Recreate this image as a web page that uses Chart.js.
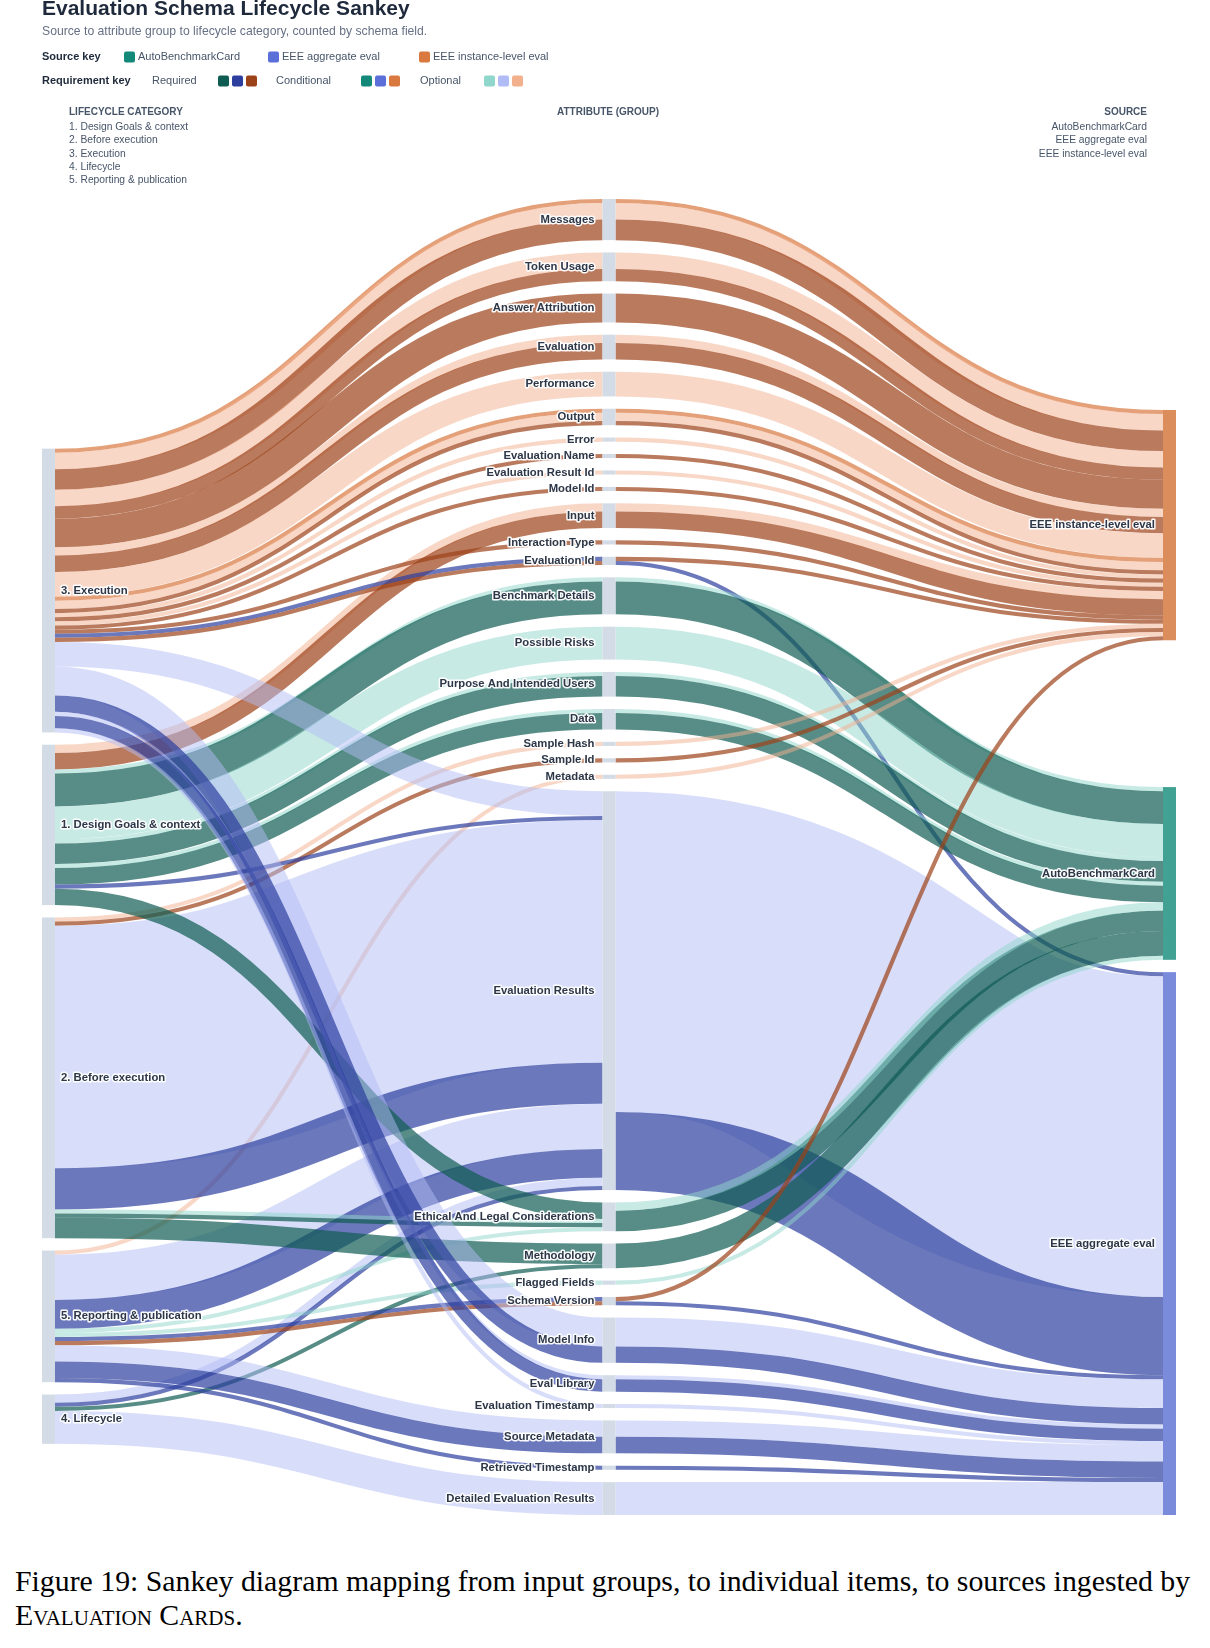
<!DOCTYPE html>
<html>
<head>
<meta charset="utf-8">
<title>Evaluation Schema Lifecycle Sankey</title>
<script src="https://cdn.jsdelivr.net/npm/chart.js@4.4.1/dist/chart.umd.min.js"></script>
<style>
  html, body { margin: 0; padding: 0; background: #fff; }
  body { width: 1210px; height: 1648px; position: relative; overflow: hidden; }
  #sankey { position: absolute; left: 0; top: 0; }
  .caption {
    position: absolute; left: 15px; top: 1564px; white-space: nowrap;
    font-family: "Liberation Serif", "Times New Roman", serif;
    font-size: 29.8px; line-height: 34px; color: #000;
  }
  .sc { font-variant: small-caps; }
</style>
</head>
<body>
<canvas id="sankey" width="1210" height="1540"></canvas>
<div class="caption">Figure 19: Sankey diagram mapping from input groups, to individual items, to sources ingested by<br><span class="sc">Evaluation Cards</span>.</div>

<script>
// Columns of the sankey, top to bottom
const categories = ["3. Execution", "1. Design Goals & context", "2. Before execution",
  "5. Reporting & publication", "4. Lifecycle"];
const attributes = ["Messages", "Token Usage", "Answer Attribution", "Evaluation", "Performance",
  "Output", "Error", "Evaluation Name", "Evaluation Result Id", "Model Id", "Input",
  "Interaction Type", "Evaluation Id", "Benchmark Details", "Possible Risks",
  "Purpose And Intended Users", "Data", "Sample Hash", "Sample Id", "Metadata",
  "Evaluation Results", "Ethical And Legal Considerations", "Methodology", "Flagged Fields",
  "Schema Version", "Model Info", "Eval Library", "Evaluation Timestamp", "Source Metadata",
  "Retrieved Timestamp", "Detailed Evaluation Results"];
const sources = ["EEE instance-level eval", "AutoBenchmarkCard", "EEE aggregate eval"];
const requirementLevels = ["conditional", "optional", "required"];

const INS = "EEE instance-level eval", ABC = "AutoBenchmarkCard", AGG = "EEE aggregate eval";
const EXE = "3. Execution", DES = "1. Design Goals & context", BEF = "2. Before execution",
  REP = "5. Reporting & publication", LIF = "4. Lifecycle";

// lifecycle category, attribute group, source, requirement, number of schema fields
const flows = [
  [EXE, "Messages", INS, "conditional", 1],
  [EXE, "Messages", INS, "optional", 4],
  [EXE, "Messages", INS, "required", 5],
  [EXE, "Token Usage", INS, "optional", 4],
  [EXE, "Token Usage", INS, "required", 3],
  [EXE, "Answer Attribution", INS, "required", 7],
  [EXE, "Evaluation", INS, "optional", 2],
  [EXE, "Evaluation", INS, "required", 4],
  [EXE, "Performance", INS, "optional", 6],
  [EXE, "Output", INS, "conditional", 1],
  [EXE, "Output", INS, "optional", 2],
  [EXE, "Output", INS, "required", 1],
  [EXE, "Error", INS, "optional", 1],
  [EXE, "Evaluation Name", INS, "required", 1],
  [EXE, "Evaluation Result Id", INS, "optional", 1],
  [EXE, "Model Id", INS, "required", 1],
  [DES, "Input", INS, "optional", 2],
  [DES, "Input", INS, "required", 4],
  [EXE, "Interaction Type", INS, "required", 1],
  [EXE, "Evaluation Id", AGG, "required", 1],
  [EXE, "Evaluation Id", INS, "required", 1],
  [DES, "Benchmark Details", ABC, "optional", 1],
  [DES, "Benchmark Details", ABC, "required", 8],
  [DES, "Possible Risks", ABC, "optional", 8],
  [DES, "Purpose And Intended Users", ABC, "optional", 1],
  [DES, "Purpose And Intended Users", ABC, "required", 5],
  [DES, "Data", ABC, "optional", 1],
  [DES, "Data", ABC, "required", 4],
  [BEF, "Sample Hash", INS, "optional", 1],
  [BEF, "Sample Id", INS, "required", 1],
  [REP, "Metadata", INS, "optional", 1],
  [EXE, "Evaluation Results", AGG, "optional", 6],
  [DES, "Evaluation Results", AGG, "required", 1],
  [BEF, "Evaluation Results", AGG, "optional", 59],
  [BEF, "Evaluation Results", AGG, "required", 10],
  [REP, "Evaluation Results", AGG, "optional", 11],
  [REP, "Evaluation Results", AGG, "required", 7],
  [LIF, "Evaluation Results", AGG, "optional", 2],
  [LIF, "Evaluation Results", AGG, "required", 1],
  [DES, "Ethical And Legal Considerations", ABC, "required", 4],
  [BEF, "Ethical And Legal Considerations", ABC, "optional", 1],
  [BEF, "Ethical And Legal Considerations", ABC, "required", 1],
  [REP, "Ethical And Legal Considerations", ABC, "optional", 1],
  [BEF, "Methodology", ABC, "required", 5],
  [LIF, "Methodology", ABC, "required", 1],
  [REP, "Flagged Fields", ABC, "optional", 1],
  [REP, "Schema Version", AGG, "required", 1],
  [REP, "Schema Version", INS, "required", 1],
  [EXE, "Model Info", AGG, "optional", 7],
  [EXE, "Model Info", AGG, "required", 4],
  [EXE, "Eval Library", AGG, "optional", 1],
  [EXE, "Eval Library", AGG, "required", 3],
  [EXE, "Evaluation Timestamp", AGG, "optional", 1],
  [REP, "Source Metadata", AGG, "optional", 4],
  [REP, "Source Metadata", AGG, "required", 4],
  [REP, "Retrieved Timestamp", AGG, "required", 1],
  [LIF, "Detailed Evaluation Results", AGG, "optional", 8]
];

// colours per source and requirement level (rgb triplets)
const palette = {
  "AutoBenchmarkCard": { required: "15,92,83", conditional: "20,137,122", optional: "143,214,204", node: "#41a193" },
  "EEE aggregate eval": { required: "44,63,158", conditional: "90,111,216", optional: "177,187,245", node: "#7b8bdb" },
  "EEE instance-level eval": { required: "156,66,24", conditional: "217,120,63", optional: "243,176,141", node: "#dc8d5c" }
};
const linkAlpha = { required: 0.7, conditional: 0.7, optional: 0.5 };
const NODE_PAD = 3;   // gap between nodes, in field units
const NODE_W = 13;    // node thickness, px
const FONT = "'Liberation Sans', Arial, sans-serif";

// layout in field units: attributes stacked, each side node balanced between
// its attributes and the nodes it reaches on the far side
function buildSankey() {
  const columns = [categories, attributes, sources].map((names, c) =>
    names.map(name => ({ name, col: c, value: 0, inLinks: [], outLinks: [], y0: 0, y1: 0 })));
  const find = (c, name) => columns[c].find(n => n.name === name);
  const links = [];
  const addLink = (a, b, src, req, v) => {
    let l = links.find(k => k.from === a && k.to === b && k.src === src && k.req === req);
    if (!l) { l = { from: a, to: b, src, req, value: 0 }; links.push(l); a.outLinks.push(l); b.inLinks.push(l); }
    l.value += v;
  };
  const paths = flows.map(([cat, attr, src, req, v]) => {
    addLink(find(0, cat), find(1, attr), src, req, v);
    addLink(find(1, attr), find(2, src), src, req, v);
    return { left: find(0, cat), mid: find(1, attr), right: find(2, src), v };
  });

  const sum = (arr, f) => arr.reduce((s, d) => s + f(d), 0);
  const nodes = columns.flat();
  nodes.forEach(n => n.value = Math.max(sum(n.inLinks, l => l.value), sum(n.outLinks, l => l.value)));
  const height = Math.max(...columns.map(c => sum(c, n => n.value) + (c.length - 1) * NODE_PAD));
  const center = n => (n.y0 + n.y1) / 2;
  const place = (n, mid) => { n.y0 = mid - n.value / 2; n.y1 = n.y0 + n.value; };

  // push overlapping nodes down, then back up from the bottom edge
  const pushDown = c => {
    let y = 0;
    c.forEach(n => {
      const dy = y - n.y0;
      if (dy > 0) { n.y0 += dy; n.y1 += dy; }
      y = n.y1 + NODE_PAD;
    });
    const over = y - NODE_PAD - height;
    if (over > 0) {
      const last = c[c.length - 1];
      last.y0 -= over; last.y1 -= over; y = last.y0;
      for (let i = c.length - 2; i >= 0; i--) {
        const n = c[i], d = n.y1 + NODE_PAD - y;
        if (d > 0) { n.y0 -= d; n.y1 -= d; }
        y = n.y0;
      }
    }
  };
  // weighted least-squares removal of overlaps (pool adjacent violators)
  const poolBlocks = c => {
    let off = 0;
    const items = c.map(n => { const it = { n, off, t: n.y0 - off, w: n.value }; off += n.value + NODE_PAD; return it; });
    const blocks = [];
    items.forEach(it => {
      blocks.push({ s: it.t * it.w, w: it.w, items: [it] });
      while (blocks.length > 1 &&
             blocks[blocks.length - 2].s / blocks[blocks.length - 2].w > blocks[blocks.length - 1].s / blocks[blocks.length - 1].w) {
        const b = blocks.pop(), a = blocks[blocks.length - 1];
        a.s += b.s; a.w += b.w; a.items.push(...b.items);
      }
    });
    const maxT = height - (off - NODE_PAD);
    blocks.forEach(b => {
      const t = Math.min(Math.max(b.s / b.w, 0), maxT);
      b.items.forEach(it => { it.n.y0 = t + it.off; it.n.y1 = it.n.y0 + it.n.value; });
    });
  };

  let y = 0;
  columns[1].forEach(n => { n.y0 = y; n.y1 = y + n.value; y = n.y1 + NODE_PAD; });
  const midPull = (n, side, other) => sum(n[side], l => center(l[other]) * l.value) / sum(n[side], l => l.value);
  const farPull = (n, key, far) => {
    const ps = paths.filter(p => p[key] === n);
    return sum(ps, p => center(p[far]) * p.v) / sum(ps, p => p.v);
  };
  columns[0].forEach(n => place(n, midPull(n, "outLinks", "to")));
  pushDown(columns[0]);
  columns[2].forEach(n => place(n, midPull(n, "inLinks", "from")));
  pushDown(columns[2]);
  for (let it = 0; it < 40; it++) {
    columns[2].forEach(n => place(n, (midPull(n, "inLinks", "from") + farPull(n, "right", "left")) / 2));
    pushDown(columns[2]);
    columns[0].forEach(n => place(n, (midPull(n, "outLinks", "to") + farPull(n, "left", "right")) / 2));
    poolBlocks(columns[0]);
  }

  // stack links inside each node
  const srcOrder = [...sources].sort();
  const order = l => requirementLevels.indexOf(l.req) * 10 + srcOrder.indexOf(l.src);
  nodes.forEach(n => {
    n.outLinks.sort((a, b) => a.to.y0 - b.to.y0 || order(a) - order(b));
    n.inLinks.sort((a, b) => a.from.y0 - b.from.y0 || order(a) - order(b));
    let y = n.y0;
    n.outLinks.forEach(l => { l.sy = y; y += l.value; });
    y = n.y0;
    n.inLinks.forEach(l => { l.ty = y; y += l.value; });
  });
  return { columns, nodes, links, height };
}

const sankey = buildSankey();

const sankeyPlugin = {
  id: "sankeyDraw",
  afterDatasetsDraw(chart) {
    const ctx = chart.ctx, xs = chart.scales.x, ys = chart.scales.y;
    const px = c => xs.getPixelForValue(c);
    const py = v => ys.getPixelForValue(v);
    ctx.save();
    // links, left half first
    [0, 1].forEach(col => sankey.links.filter(l => l.from.col === col).forEach(l => {
      const x0 = px(l.from.col) + NODE_W, x1 = px(l.to.col);
      const y0 = py(l.sy + l.value / 2), y1 = py(l.ty + l.value / 2);
      const xm = (x0 + x1) / 2;
      ctx.beginPath();
      ctx.moveTo(x0, y0);
      ctx.bezierCurveTo(xm, y0, xm, y1, x1, y1);
      ctx.lineWidth = Math.abs(py(l.value) - py(0));
      ctx.strokeStyle = `rgba(${palette[l.src][l.req]},${linkAlpha[l.req]})`;
      ctx.stroke();
    }));
    // nodes
    sankey.nodes.forEach(n => {
      ctx.fillStyle = n.col === 2 ? palette[n.name].node : "#d3dce6";
      ctx.fillRect(px(n.col), py(n.y0), NODE_W, py(n.y1) - py(n.y0));
    });
    // labels with white halo
    ctx.font = "bold 11.3px " + FONT;
    ctx.textBaseline = "middle";
    ctx.lineJoin = "round";
    sankey.nodes.forEach(n => {
      const y = py((n.y0 + n.y1) / 2);
      let x;
      if (n.col === 0) { ctx.textAlign = "left"; x = px(0) + NODE_W + 6; }
      else { ctx.textAlign = "right"; x = px(n.col) - 8; }
      ctx.strokeStyle = "rgba(255,255,255,0.95)";
      ctx.lineWidth = 3;
      ctx.strokeText(n.name, x, y);
      ctx.fillStyle = "#2d3748";
      ctx.fillText(n.name, x, y);
    });
    ctx.restore();
  }
};

const headerPlugin = {
  id: "header",
  afterDraw(chart) {
    const ctx = chart.ctx;
    ctx.save();
    ctx.textBaseline = "alphabetic";
    ctx.textAlign = "left";
    ctx.fillStyle = "#1e293b";
    ctx.font = "bold 21px " + FONT;
    ctx.fillText("Evaluation Schema Lifecycle Sankey", 42, 15);
    ctx.textBaseline = "middle";
    ctx.fillStyle = "#667085";
    ctx.font = "12.2px " + FONT;
    ctx.fillText("Source to attribute group to lifecycle category, counted by schema field.", 42, 31.5);

    const swatch = (x, y, color) => {
      ctx.fillStyle = color;
      ctx.beginPath();
      ctx.roundRect(x, y - 5.5, 11, 11, 2);
      ctx.fill();
    };
    // source key
    ctx.font = "bold 11px " + FONT;
    ctx.fillStyle = "#1e293b";
    ctx.fillText("Source key", 42, 57);
    ctx.font = "11px " + FONT;
    [[124, ABC], [268, AGG], [419, INS]].forEach(([x, s]) => {
      swatch(x, 57, `rgb(${palette[s].conditional})`);
      ctx.fillStyle = "#475569";
      ctx.fillText(s, x + 14, 57);
    });
    // requirement key
    ctx.font = "bold 11px " + FONT;
    ctx.fillStyle = "#1e293b";
    ctx.fillText("Requirement key", 42, 81);
    ctx.font = "11px " + FONT;
    [["Required", 152, 218, "required"], ["Conditional", 276, 361, "conditional"],
     ["Optional", 420, 484, "optional"]].forEach(([label, tx, sx, req]) => {
      ctx.fillStyle = "#475569";
      ctx.fillText(label, tx, 81);
      [ABC, AGG, INS].forEach((s, i) => swatch(sx + i * 14, 81, `rgb(${palette[s][req]})`));
    });

    // column headers
    ctx.fillStyle = "#475569";
    ctx.font = "bold 10px " + FONT;
    ctx.fillText("LIFECYCLE CATEGORY", 69, 112.5);
    ctx.textAlign = "center";
    ctx.fillText("ATTRIBUTE (GROUP)", 608, 112.5);
    ctx.textAlign = "right";
    ctx.fillText("SOURCE", 1147, 112.5);
    ctx.font = "10.3px " + FONT;
    [...categories].sort().forEach((c, i) => { ctx.textAlign = "left"; ctx.fillText(c, 69, 127 + i * 13.4); });
    [...sources].sort().forEach((s, i) => { ctx.textAlign = "right"; ctx.fillText(s, 1147, 127 + i * 13.4); });
    ctx.restore();
  }
};

new Chart(document.getElementById("sankey"), {
  type: "scatter",
  data: { datasets: [{ data: [], pointRadius: 0 }] },
  options: {
    responsive: false,
    animation: false,
    events: [],
    layout: { padding: { left: 42, right: 47, top: 199, bottom: 25 } },
    plugins: { legend: { display: false }, tooltip: { enabled: false } },
    scales: {
      x: { type: "linear", min: 0, max: 2, display: false },
      y: { type: "linear", min: 0, max: sankey.height, reverse: true, display: false }
    }
  },
  plugins: [sankeyPlugin, headerPlugin]
});
</script>
</body>
</html>
